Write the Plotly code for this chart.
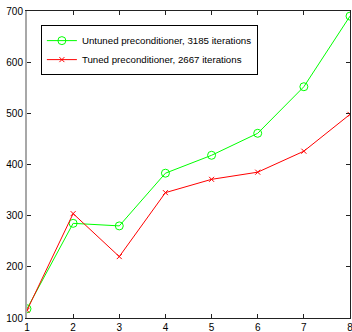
import plotly.graph_objects as go

x = [1, 2, 3, 4, 5, 6, 7, 8]
untuned = [118, 285, 280, 383, 418, 461, 552, 690]
tuned = [115, 304, 220, 345, 371, 385, 426, 498]
names = ["Untuned preconditioner, 3185 iterations", "Tuned preconditioner, 2667 iterations"]
yticks = [100, 200, 300, 400, 500, 600, 700]

fig = go.Figure()
fig.add_trace(go.Scatter(x=x, y=untuned, mode="lines+markers", name=names[0],
                         line=dict(color="#00ff00", width=1),
                         marker=dict(symbol="circle-open", size=8, color="#00ff00", line=dict(width=1))))
fig.add_trace(go.Scatter(x=x, y=tuned, mode="lines+markers", name=names[1],
                         line=dict(color="#ff0000", width=1),
                         marker=dict(symbol="x-thin-open", size=5, color="#ff0000", line=dict(width=1, color="#ff0000"))))

tf = dict(family="Liberation Sans, Arial", size=10, color="black")
fig.update_layout(
    xaxis=dict(range=[1, 8], tickvals=x, showgrid=False, zeroline=False, showline=True,
               linecolor="#222222", linewidth=1, mirror="ticks", ticks="inside", ticklen=4,
               tickcolor="#222222", automargin=False, ticklabeloverflow="allow", tickfont=tf),
    yaxis=dict(range=[100, 700], tickvals=yticks, showgrid=False, zeroline=False, showline=True,
               linecolor="#a8a8a8", linewidth=2, mirror=False, ticks="inside", ticklen=4,
               tickcolor="#222222", automargin=False, ticklabeloverflow="allow", tickfont=tf),
    yaxis2=dict(range=[100, 700], tickvals=yticks, overlaying="y", side="right", showgrid=False,
                zeroline=False, showline=True, linecolor="#222222", linewidth=1, ticks="inside",
                ticklen=4, tickcolor="#222222", showticklabels=False, automargin=False),
)
fig.add_trace(go.Scatter(x=[x[0]], y=[untuned[0]], yaxis="y2", mode="markers", showlegend=False,
                         hoverinfo="skip", marker=dict(opacity=0)))

fig.update_layout(
    width=352, height=332,
    margin=dict(l=27, r=2, t=11, b=14),
    paper_bgcolor="white", plot_bgcolor="white",
    showlegend=True,
    legend=dict(x=0.043, y=0.954, xanchor="left", yanchor="top",
                bordercolor="black", borderwidth=1, bgcolor="white",
                font=dict(family="Liberation Sans, Arial", size=9.7, color="black"),
                itemwidth=30, tracegroupgap=0),
)
fig.write_html("out.html", config={"displayModeBar": False},
               post_script="document.body.style.margin='0';")
